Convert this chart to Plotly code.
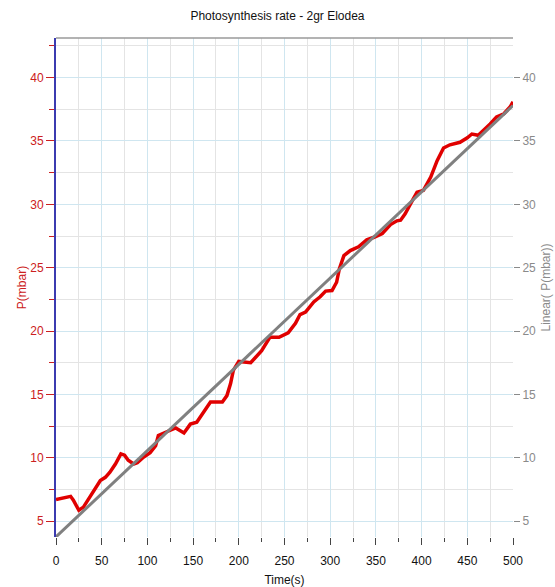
import plotly.graph_objects as go

# Measured pressure data (red)
time_s = [0, 8, 16, 19, 25, 30, 41, 48.5, 54, 59, 65, 71, 75, 79, 85, 89, 96, 103,
          109, 112, 118, 125, 131, 140, 147, 154, 162, 169, 176, 182, 187, 191, 194,
          200, 213, 225, 234, 244, 254, 262, 267, 273, 282, 289, 295, 302, 307, 310,
          315, 322, 331, 340, 348, 357, 366, 373, 377, 382, 388, 395, 402, 410, 417,
          424, 431, 442, 450, 455, 462, 468, 475, 482, 490, 497, 500]
p_mbar = [6.7, 6.85, 6.95, 6.65, 5.85, 6.1, 7.3, 8.2, 8.45, 8.85, 9.5, 10.3, 10.2,
          9.8, 9.5, 9.6, 10.05, 10.4, 10.95, 11.75, 11.95, 12.2, 12.35, 11.95, 12.65,
          12.8, 13.6, 14.4, 14.4, 14.4, 14.9, 15.85, 16.9, 17.6, 17.5, 18.45, 19.5,
          19.5, 19.85, 20.6, 21.3, 21.5, 22.3, 22.7, 23.15, 23.2, 23.85, 24.9, 25.95,
          26.35, 26.65, 27.2, 27.4, 27.7, 28.4, 28.7, 28.75, 29.25, 30.05, 30.95,
          31.1, 32.15, 33.45, 34.45, 34.7, 34.9, 35.25, 35.55, 35.45, 35.85, 36.35,
          36.9, 37.15, 37.7, 38.1]

# Linear fit (gray) endpoints
fit_time = [0, 500]
fit_p = [3.75, 37.8]

x_ticks = [0, 50, 100, 150, 200, 250, 300, 350, 400, 450, 500]
y_ticks = [5, 10, 15, 20, 25, 30, 35, 40]
y_range = [3.74, 43.13]
x_range = [0, 500]

FONT = "Liberation Sans, Arial, sans-serif"
RED_TXT = "#cc2020"
GRAY_TXT = "#8a8a8a"
GRID_MAJOR = "#cfe6f0"
GRID_MINOR = "#e4e4e4"

fig = go.Figure()
fig.add_trace(go.Scatter(x=time_s, y=p_mbar, mode="lines",
                         line=dict(color="#e00000", width=3.5), yaxis="y"))
fig.add_trace(go.Scatter(x=fit_time, y=fit_p, mode="lines",
                         line=dict(color="#808080", width=3), yaxis="y2"))

fig.update_layout(
    width=555, height=587,
    margin=dict(l=56, r=42, t=38, b=50),
    paper_bgcolor="white", plot_bgcolor="white",
    showlegend=False,
    font=dict(family=FONT, size=12, color="#222"),
    title=dict(text="Photosynthesis rate - 2gr Elodea", x=0.5, xref="container",
               y=0.973, yref="container", xanchor="center", yanchor="middle",
               font=dict(family=FONT, size=12, color="#111")),
    xaxis=dict(
        range=x_range, tickvals=x_ticks, ticks="outside", ticklen=7,
        tickcolor="#444", tickwidth=1, showline=False, zeroline=False,
        showgrid=True, gridcolor=GRID_MAJOR, gridwidth=1, automargin=False,
        ticklabelstandoff=6,
        tickfont=dict(family=FONT, size=12, color="#111"),
        title=dict(text="Time(s)", font=dict(family=FONT, size=12, color="#111"), standoff=8),
        minor=dict(dtick=25, tick0=0, ticks="outside", ticklen=4, tickcolor="#444",
                   showgrid=True, gridcolor=GRID_MINOR, gridwidth=1),
    ),
    yaxis=dict(
        range=y_range, tickvals=y_ticks, ticks="outside", ticklen=8,
        tickcolor=RED_TXT, tickwidth=1, showline=True, linecolor="#3b3bb0",
        linewidth=2, zeroline=False, showgrid=True, gridcolor=GRID_MAJOR,
        automargin=False,
        tickfont=dict(family=FONT, size=12, color=RED_TXT),
        title=dict(text="P(mbar)", font=dict(family=FONT, size=12, color=RED_TXT), standoff=1),
        minor=dict(dtick=2.5, tick0=0, ticks="outside", ticklen=5, tickcolor=RED_TXT,
                   showgrid=True, gridcolor=GRID_MINOR, gridwidth=1),
    ),
    yaxis2=dict(
        range=y_range, tickvals=y_ticks, overlaying="y", side="right",
        ticks="outside", ticklen=6, tickcolor=GRAY_TXT, showgrid=False,
        zeroline=False, showline=False, automargin=False, ticklabelstandoff=0,
        tickfont=dict(family=FONT, size=12, color=GRAY_TXT),
        title=dict(text="Linear( P(mbar))", font=dict(family=FONT, size=12, color=GRAY_TXT), standoff=6),
    ),
    shapes=[dict(type="line", xref="paper", yref="paper", x0=0, x1=1, y0=1, y1=1,
                 line=dict(color="#9a9a9a", width=1.5))],
)

fig.write_html("out.html", config={"displayModeBar": False},
               post_script="document.body.style.margin='0';document.body.style.padding='0';")
